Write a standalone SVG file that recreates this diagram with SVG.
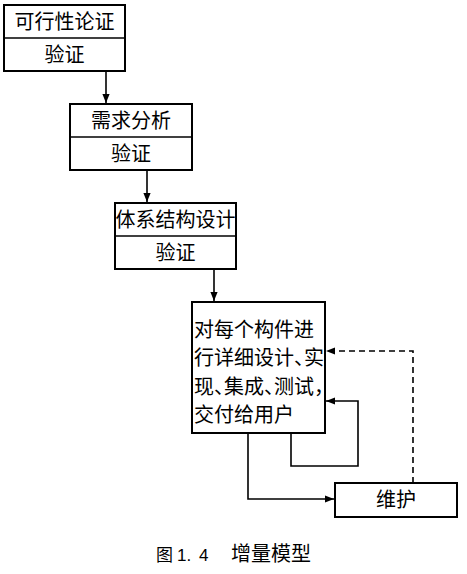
<svg xmlns="http://www.w3.org/2000/svg" width="467" height="574" viewBox="0 0 467 574">
<style>
.box{fill:#fff;stroke:#000;stroke-width:2}
.ln{fill:none;stroke:#000;stroke-width:1.6}
.t{font-family:"Liberation Sans","Noto Sans CJK SC",sans-serif;font-size:20px;fill:#000}
.c{text-anchor:middle}
.h{font-feature-settings:"halt" 1}
</style>
<defs>
<marker id="ah" viewBox="0 0 10 10" refX="10" refY="5" markerWidth="9" markerHeight="9" markerUnits="userSpaceOnUse" orient="auto">
<path d="M0,1 L10,5 L0,9 z" fill="#000"/>
</marker>
</defs>
<g id="connectors">
<line class="ln" x1="106" y1="71" x2="106" y2="103" marker-end="url(#ah)"/>
<line class="ln" x1="147" y1="170" x2="147" y2="202" marker-end="url(#ah)"/>
<line class="ln" x1="214" y1="269" x2="214" y2="301" marker-end="url(#ah)"/>
<polyline class="ln" points="291,433 291,466 358,466 358,401 326,401" marker-end="url(#ah)"/>
<polyline class="ln" points="248,433 248,499 334,499" marker-end="url(#ah)"/>
<polyline class="ln" points="413,483 413,351 326,351" stroke-dasharray="6,4" marker-end="url(#ah)"/>
</g>
<g id="n1">
<rect class="box" x="4" y="5" width="121" height="66"/>
<line class="ln" x1="4" y1="38" x2="125" y2="38"/>
<text class="t c" x="64.5" y="29">可行性论证</text>
<text class="t c" x="64.5" y="62">验证</text>
</g>
<g id="n2">
<rect class="box" x="70" y="104" width="122" height="66"/>
<line class="ln" x1="70" y1="137" x2="192" y2="137"/>
<text class="t c" x="131" y="128">需求分析</text>
<text class="t c" x="131" y="161">验证</text>
</g>
<g id="n3">
<rect class="box" x="115" y="203" width="121" height="66"/>
<line class="ln" x1="115" y1="236" x2="236" y2="236"/>
<text class="t c" x="175.5" y="227">体系结构设计</text>
<text class="t c" x="175.5" y="260">验证</text>
</g>
<g id="n4">
<rect class="box" x="192" y="302" width="133" height="131"/>
<text class="t" x="194" y="337">对每个构件进</text>
<text class="t h" x="194" y="365">行详细设计、实</text>
<text class="t h" x="194" y="394">现、集成、测试，</text>
<text class="t" x="194" y="422">交付给用户</text>
</g>
<g id="n5">
<rect class="box" x="335" y="483" width="122" height="34"/>
<text class="t c" x="396" y="507">维护</text>
</g>
<text y="561" style="font-family:'Liberation Sans','Noto Sans CJK SC',sans-serif;fill:#000" xml:space="preserve"><tspan x="156" font-size="17">图</tspan><tspan x="177" font-size="17">1.</tspan><tspan x="199" font-size="17">4</tspan><tspan x="231" font-size="20">增量模型</tspan></text>
</svg>
